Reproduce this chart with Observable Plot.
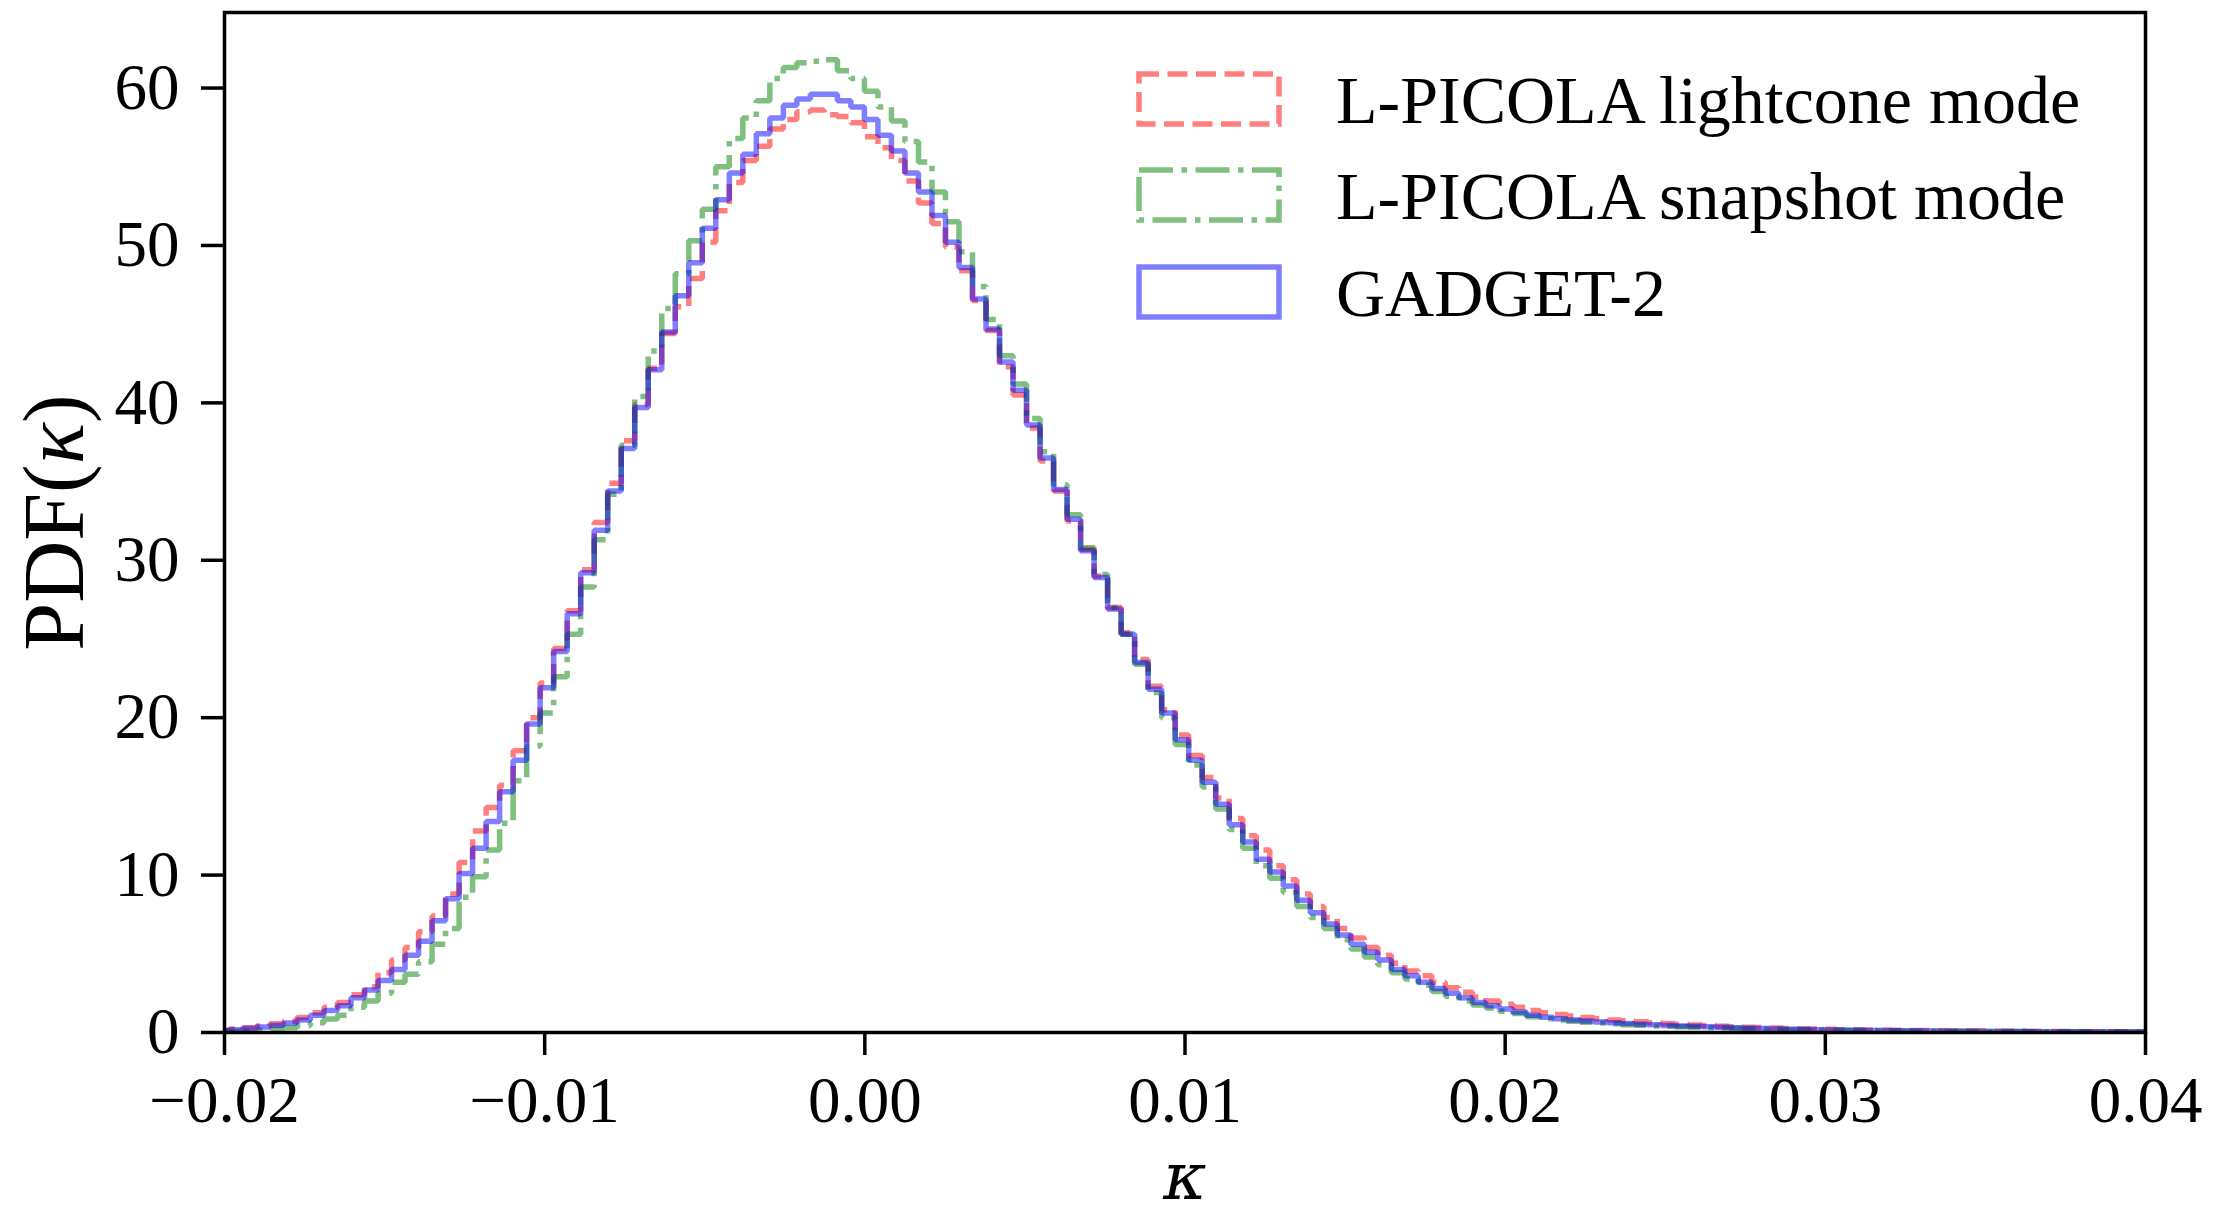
<!DOCTYPE html>
<html><head><meta charset="utf-8">
<script src="https://cdn.jsdelivr.net/npm/d3@7"></script>
<script src="https://cdn.jsdelivr.net/npm/@observablehq/plot@0.6"></script>
<style>
html,body{margin:0;padding:0;background:#fff;}
#chart{position:relative;width:2225px;height:1215px;overflow:hidden;}
</style></head><body><div id="chart"></div>
<script>
// Histogram bins (first bin left edge, common bin width)
const binStart = -0.020269;
const binWidth = 0.000422;
const xTicks = [-0.02, -0.01, 0, 0.01, 0.02, 0.03, 0.04];
const yTicks = [0, 10, 20, 30, 40, 50, 60];
const seriesNames = ["L-PICOLA lightcone mode", "L-PICOLA snapshot mode", "GADGET-2"];

const lightcone = [
0.15,0.22,0.3,0.42,0.55,0.72,0.95,1.25,1.6,1.9,2.4,2.9,3.8,4.6,5.4,6.4,7.4,8.8,10.8,12.8,14.3,15.7,17.9,
20.0,22.2,24.4,26.8,29.4,32.4,34.9,37.6,39.9,42.2,44.4,46.1,47.9,50.2,52.2,54.0,55.4,56.3,57.4,58.0,58.5,58.6,58.3,
58.2,57.8,56.9,56.2,55.4,54.1,52.7,51.4,49.9,48.4,46.5,44.6,42.3,40.5,38.4,36.3,34.4,32.5,30.7,29.0,27.0,25.4,23.7,
22.0,20.5,18.9,17.6,16.2,14.9,13.6,12.5,11.6,10.6,9.7,8.8,8.0,7.3,6.6,6.0,5.4,4.9,4.4,3.9,3.6,3.2,2.85,2.55,2.25,
2.0,1.8,1.6,1.4,1.25,1.15,1.05,0.95,0.88,0.8,0.74,0.68,0.62,0.57,0.52,0.48,0.44,0.4,0.37,0.34,0.31,0.28,0.26,0.24,
0.22,0.2,0.18,0.17,0.16,0.15,0.14,0.13,0.12,0.11,0.1,0.095,0.09,0.085,0.08,0.075,0.07,0.066,0.062,0.058,0.055,0.052,
0.05,0.048,0.045
];
const snapshot = [
0.06,0.08,0.1,0.15,0.2,0.3,0.45,0.62,0.85,1.1,1.6,2.0,2.5,3.2,3.7,4.5,5.6,6.6,8.6,9.9,11.6,13.3,16.0,
18.2,20.3,22.6,25.3,28.3,31.3,34.2,37.3,40.4,43.3,46.0,48.2,50.3,52.3,55.0,56.8,58.1,59.2,60.6,61.3,61.6,61.7,61.8,
61.1,60.6,59.8,58.8,57.9,56.6,55.3,53.4,51.5,49.6,47.4,45.3,43.0,41.2,39.0,36.9,34.8,32.9,30.8,29.1,27.0,25.3,23.4,
21.6,20.0,18.3,17.0,15.6,14.2,12.9,11.7,10.6,9.8,8.9,8.0,7.3,6.6,5.9,5.3,4.8,4.3,3.8,3.4,3.0,2.6,2.3,2.0,
1.75,1.55,1.35,1.2,1.0,0.88,0.8,0.72,0.65,0.6,0.55,0.5,0.46,0.42,0.39,0.36,0.33,0.3,0.28,0.26,0.24,0.22,0.2,0.18,
0.17,0.16,0.15,0.14,0.13,0.12,0.11,0.1,0.095,0.09,0.085,0.08,0.075,0.07,0.066,0.062,0.058,0.055,0.052,0.05,0.047,0.045,
0.043,0.04,0.038,0.036
];
const gadget = [
0.12,0.18,0.25,0.35,0.45,0.6,0.8,1.1,1.4,1.7,2.2,2.7,3.3,4.0,4.9,5.8,7.1,8.5,10.1,11.7,13.4,15.3,17.3,
19.6,21.9,24.2,26.6,29.2,31.9,34.4,37.1,39.7,42.1,44.5,46.8,48.9,51.1,52.9,54.6,55.8,57.1,58.1,58.9,59.3,59.6,59.6,
59.2,58.8,58.0,57.0,56.0,54.6,53.4,51.9,50.2,48.6,46.6,44.7,42.6,40.8,38.6,36.5,34.5,32.6,30.6,28.9,26.9,25.3,23.5,
21.8,20.3,18.6,17.3,15.9,14.5,13.2,12.1,11.0,10.2,9.3,8.4,7.6,6.9,6.2,5.6,5.1,4.6,4.0,3.6,3.2,2.8,2.5,2.2,
1.9,1.7,1.5,1.3,1.1,0.97,0.88,0.8,0.73,0.67,0.62,0.57,0.53,0.49,0.45,0.42,0.39,0.36,0.33,0.3,0.27,0.25,0.23,0.21,
0.19,0.17,0.16,0.15,0.14,0.13,0.12,0.11,0.1,0.095,0.09,0.085,0.08,0.075,0.07,0.065,0.06,0.058,0.055,0.052,0.05,0.047,
0.045,0.043,0.04,0.038
];

function steps(vals) {
  const pts = vals.map((v, i) => ({x: binStart + i * binWidth, y: v}));
  pts.push({x: binStart + vals.length * binWidth, y: vals[vals.length - 1]});
  return pts;
}

const styles = [
  {stroke: "#ff0000", dash: "20,8.5"},
  {stroke: "#008000", dash: "34,8.5,5.5,8.5"},
  {stroke: "#0000ff", dash: null}
];
const allSeries = [lightcone, snapshot, gadget];

const lineMarks = allSeries.map((vals, i) => Plot.line(steps(vals), {
  x: "x", y: "y", curve: "step-after",
  stroke: styles[i].stroke, strokeOpacity: 0.5, strokeWidth: 5.5,
  strokeDasharray: styles[i].dash || undefined,
  strokeLinejoin: "miter", strokeLinecap: "butt", clip: true
}));

const fmt = d3.format(".2f");
const FONT = "'Liberation Serif', 'Times New Roman', serif";

const svg = Plot.plot({
  width: 2225, height: 1215,
  marginLeft: 224, marginRight: 80, marginTop: 12, marginBottom: 183,
  style: {fontFamily: FONT, background: "white", color: "black"},
  x: {domain: [-0.02, 0.04]},
  y: {domain: [0, 64.8]},
  marks: [
    ...lineMarks,
    Plot.frame({strokeWidth: 3.5}),
    Plot.axisX({ticks: xTicks, tickSize: 23, tickPadding: 20, strokeWidth: 3.5, fontSize: 65, tickFormat: d => fmt(d), label: null}),
    Plot.axisY({ticks: yTicks, tickSize: 23, tickPadding: 22, strokeWidth: 3.5, fontSize: 65, label: null}),
    Plot.text(["PDF(κ)"], {frameAnchor: "left", dx: -142, rotate: -90, fontSize: 86, textAnchor: "middle", lineAnchor: "bottom"}),
    Plot.text(["κ"], {frameAnchor: "bottom", dy: 166, fontSize: 66, fontStyle: "italic", fontFamily: "'DejaVu Serif', serif", lineAnchor: "bottom"})
  ]
});

// italic kappa inside the y label
d3.select(svg).selectAll("text").each(function() {
  if (this.textContent === "PDF(κ)") {
    const t = d3.select(this);
    t.text(null);
    t.append("tspan").text("PDF(");
    t.append("tspan").attr("font-style", "italic").text("κ");
    t.append("tspan").text(")");
  }
});

// legend (matplotlib style patches)
const leg = d3.select(svg).append("g").attr("class", "legend").attr("text-anchor", "start");
const legTops = [74, 170, 267];
seriesNames.forEach((name, i) => {
  const r = leg.append("rect")
    .attr("x", 1139).attr("y", legTops[i]).attr("width", 140).attr("height", 50)
    .attr("fill", "none").attr("stroke", styles[i].stroke).attr("stroke-opacity", 0.5)
    .attr("stroke-width", 5.5);
  if (styles[i].dash) r.attr("stroke-dasharray", styles[i].dash);
  leg.append("text").attr("x", 1336).attr("y", legTops[i] + 49)
    .attr("text-anchor", "start")
    .attr("font-family", FONT)
    .attr("font-size", 68).attr("fill", "black").text(name);
});

document.getElementById("chart").appendChild(svg);
</script>
</body></html>
